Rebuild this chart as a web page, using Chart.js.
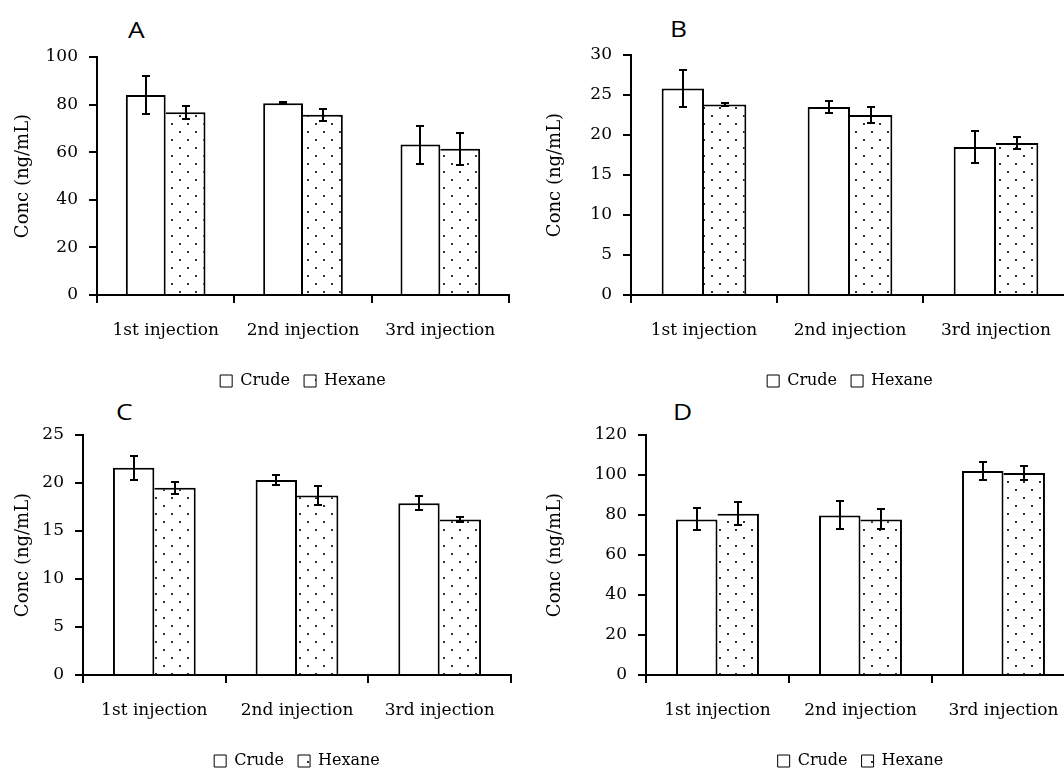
<!DOCTYPE html>
<html>
<head>
<meta charset="utf-8">
<script src="https://cdn.jsdelivr.net/npm/chart.js"></script>
<style>
  html,body{margin:0;padding:0;background:#fff;}
  body{width:1064px;height:769px;overflow:hidden;position:relative;}
  .panel{position:absolute;}
  .letter{position:absolute;font-family:"Open Sans",sans-serif;font-size:22px;line-height:22px;color:#000;transform:scaleX(1.2);transform-origin:left top;}
</style>
</head>
<body>
<div class="letter" style="left:128px;top:18px">A</div>
<div class="letter" style="left:670px;top:17px">B</div>
<div class="letter" style="left:116px;top:400px">C</div>
<div class="letter" style="left:673px;top:400px">D</div>
<div class="panel" style="left:0;top:0;width:532px;height:400px"><canvas id="chartA"></canvas></div>
<div class="panel" style="left:532px;top:0;width:545px;height:400px"><canvas id="chartB"></canvas></div>
<div class="panel" style="left:0;top:390px;width:532px;height:389px"><canvas id="chartC"></canvas></div>
<div class="panel" style="left:532px;top:390px;width:550px;height:389px"><canvas id="chartD"></canvas></div>
<script>
const categories = ['1st injection','2nd injection','3rd injection'];

const crudeA = [84.0, 80.6, 63.2];
const crudeErrA = [8.0, 0.4, 8.0];
const hexaneA = [76.8, 75.7, 61.5];
const hexaneErrA = [2.7, 2.5, 6.7];

const crudeB = [25.8, 23.5, 18.5];
const crudeErrB = [2.3, 0.7, 2.0];
const hexaneB = [23.8, 22.5, 19.0];
const hexaneErrB = [0.15, 1.0, 0.8];

const crudeC = [21.6, 20.3, 17.9];
const crudeErrC = [1.25, 0.5, 0.7];
const hexaneC = [19.5, 18.7, 16.2];
const hexaneErrC = [0.6, 1.0, 0.3];

const crudeD = [77.8, 79.8, 102.0];
const crudeErrD = [5.5, 7.0, 4.5];
const hexaneD = [80.6, 77.8, 101.0];
const hexaneErrD = [5.8, 5.0, 3.5];

const serif = 'DejaVu Serif';

// dotted fill for the hexane bars
function dotPattern() {
    let c = document.createElement('canvas');
    c.width = 16; c.height = 16;
    let g = c.getContext('2d');
    g.fillStyle = '#fff';
    g.fillRect(0,0,16,16);
    g.fillStyle = '#333';
    g.fillRect(3,3,2,2);
    g.fillRect(11,11,2,2);
    return g.createPattern(c,'repeat');
}
const dots = dotPattern();

const errorBars = {
    id:'errorBars',
    afterDatasetsDraw(chart) {
        let ctx = chart.ctx;
        let y = chart.scales.y;
        ctx.save();
        ctx.strokeStyle = '#000';
        ctx.lineWidth = 2;
        chart.data.datasets.forEach((ds,i)=>{
            let meta = chart.getDatasetMeta(i);
            meta.data.forEach((bar,j)=>{
                let v = ds.data[j], e = ds.errors[j];
                let top = Math.round(y.getPixelForValue(v+e));
                let bot = Math.round(y.getPixelForValue(v-e));
                let x = Math.round(bar.x);
                ctx.beginPath();
                ctx.moveTo(x,top); ctx.lineTo(x,bot);
                ctx.moveTo(x-4,top); ctx.lineTo(x+4,top);
                ctx.moveTo(x-4,bot); ctx.lineTo(x+4,bot);
                ctx.stroke();
            });
        });
        ctx.restore();
    }
};

function makePanel(id,crude,crudeErr,hexane,hexaneErr,max,step,yWidth,pad) {
    new Chart(document.getElementById(id), {
        type:'bar',
        data:{
            labels:categories,
            datasets:[
                {label:'Crude',data:crude,errors:crudeErr,backgroundColor:'#fff',borderColor:'#000',
                 borderWidth:2,barPercentage:1.0,categoryPercentage:0.58},
                {label:'Hexane',data:hexane,errors:hexaneErr,backgroundColor:dots,borderColor:'#000',
                 borderWidth:{left:0,top:2,right:2,bottom:0},barPercentage:1.0,categoryPercentage:0.58}
            ]
        },
        options:{
            responsive:true,
            maintainAspectRatio:false,
            animation:false,
            layout:{padding:pad},
            plugins:{
                tooltip:{enabled:false},
                legend:{
                    position:'bottom',
                    fullSize:false,
                    labels:{
                        color:'#000',
                        boxWidth:12,
                        boxHeight:12,
                        padding:14,
                        font:{family:serif,size:16},
                        generateLabels(chart) {
                            return Chart.defaults.plugins.legend.labels.generateLabels(chart)
                                .map(l=>Object.assign(l,{lineWidth:1}));
                        }
                    }
                }
            },
            scales:{
                x:{
                    afterFit(scale) { scale.height = 64; },
                    grid:{display:true,drawOnChartArea:false,drawTicks:true,tickLength:8,color:'#000',lineWidth:2,offset:true},
                    border:{display:true,color:'#000',width:2},
                    ticks:{color:'#000',padding:17,maxRotation:0,font:{family:serif,size:17}}
                },
                y:{
                    min:0,max:max,
                    afterFit(scale) { scale.width = yWidth; },
                    grid:{display:true,drawOnChartArea:false,drawTicks:true,tickLength:8,color:'#000',lineWidth:2},
                    border:{display:true,color:'#000',width:2},
                    ticks:{color:'#000',stepSize:step,padding:11,font:{family:serif,size:17}},
                    title:{display:true,text:'Conc (ng/mL)',color:'#000',padding:{top:13,bottom:0},font:{family:serif,size:18}}
                }
            }
        },
        plugins:[errorBars]
    });
}

makePanel('chartA',crudeA,crudeErrA,hexaneA,hexaneErrA,100,20,97,{left:0,top:57,right:23,bottom:1});
makePanel('chartB',crudeB,crudeErrB,hexaneB,hexaneErrB,30,5,99,{left:0,top:55,right:8,bottom:1});
makePanel('chartC',crudeC,crudeErrC,hexaneC,hexaneErrC,25,5,83,{left:0,top:45,right:21,bottom:0});
makePanel('chartD',crudeD,crudeErrD,hexaneD,hexaneErrD,120,20,114,{left:0,top:45,right:7,bottom:0});
</script>
</body>
</html>
